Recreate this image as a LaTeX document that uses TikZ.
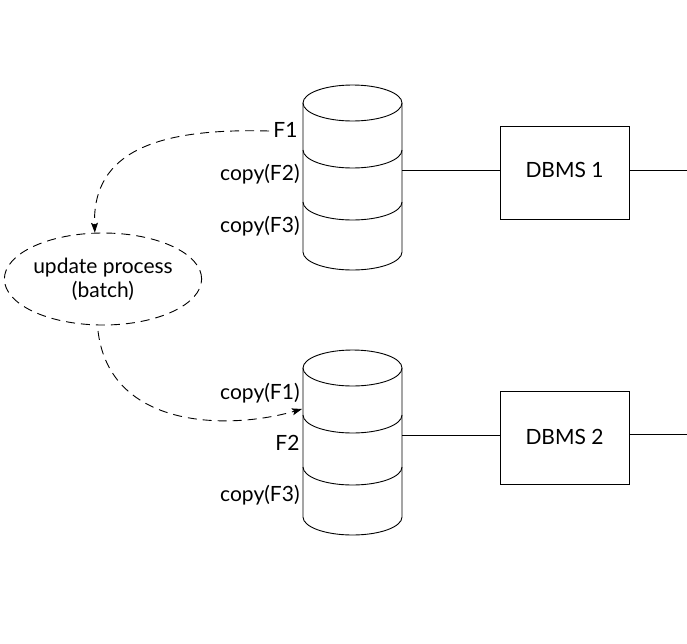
\documentclass[tikz,border=0pt]{standalone}
\usepackage{fontspec}
\setmainfont{Lato}
\usetikzlibrary{shapes.geometric,arrows.meta}
\begin{document}
\begin{tikzpicture}[x=1pt,y=-1pt,line width=0.9pt,
  every node/.style={font=\fontsize{21}{24}\selectfont},
  lbl/.style={anchor=east,inner sep=0pt},
  dbms/.style={draw,minimum width=129pt,minimum height=93pt,inner sep=0pt},
  dashline/.style={dash pattern=on 9pt off 6pt},
  tip/.style={-{Stealth[length=10pt,width=7pt,inset=2pt]}}]
\useasboundingbox (0,0) rectangle (687,643);
% ---------- cylinders ----------
\foreach \s/\nm in {0/a,265/b}{
  \begin{scope}[yshift=-\s pt]
    \draw (352.5,103) ellipse [x radius=49.5pt, y radius=18pt];
    \draw (303,103) -- (303,252) arc[start angle=180,end angle=360,x radius=49.5pt,y radius=18pt] -- (402,103);
    \draw (303,150) arc[start angle=180,end angle=360,x radius=49.5pt,y radius=18pt];
    \draw (303,202) arc[start angle=180,end angle=360,x radius=49.5pt,y radius=18pt];
    \coordinate (\nm r) at (402,170);
    \coordinate (\nm l) at (303,170);
  \end{scope}
}
% ---------- labels ----------
\node[lbl] (f1a) at (298,130) {F1};
\node[lbl] (f2a) at (300,174) {copy(F2)};
\node[lbl] (f3a) at (300,226) {copy(F3)};
\node[lbl] (f1b) at (300,393) {copy(F1)};
\node[lbl] (f2b) at (300,443) {F2};
\node[lbl] (f3b) at (300,495) {copy(F3)};
% ---------- DBMS ----------
\node[dbms] (d1) at (564.5,173) {};
\node (d1t) at (564.5,170) {DBMS 1};
\node[dbms] (d2) at (564.5,438) {};
\node (d2t) at (564.5,437) {DBMS 2};
\coordinate (e1) at (687,170);
\coordinate (e2) at (687,434);
\draw (ar) -- (ar -| d1.west);
\draw (d1.east |- e1) -- (e1);
\draw (br) -- (br -| d2.west);
\draw (d2.east |- e2) -- (e2);
% ---------- update process ----------
\node[ellipse,draw,dashline,minimum width=180pt,minimum height=92pt,inner sep=0pt,align=center] (up) at (103,279) {update process\\(batch)};
\draw[dashline,tip] (f1a.west) ++(-4,1) .. controls (160,128) and (92,150) .. (up.100);
\coordinate (s2) at (98,331);
\coordinate (t2) at (302,409);
\draw[dashline,tip] (s2) .. controls (110,430) and (230,430) .. (t2);
\end{tikzpicture}
\end{document}
